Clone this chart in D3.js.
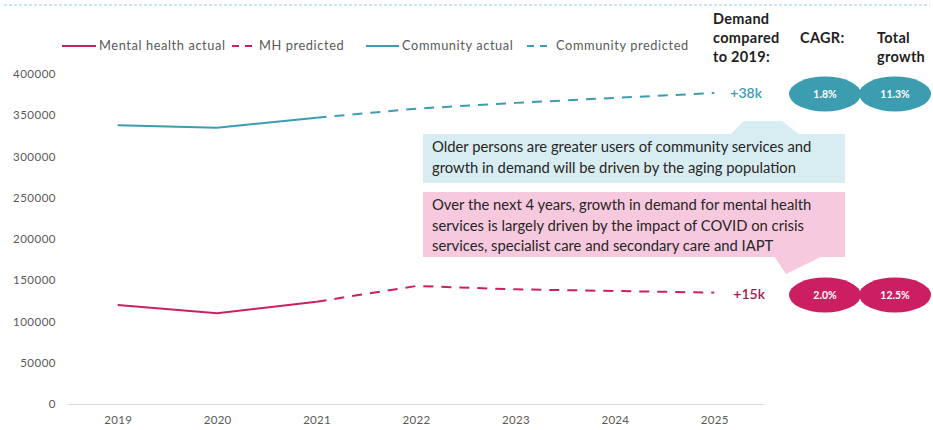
<!DOCTYPE html>
<html>
<head>
<meta charset="utf-8">
<script src="https://cdn.jsdelivr.net/npm/d3@7"></script>
<style>
  html, body { margin: 0; padding: 0; background: #ffffff; }
  svg { display: block; font-family: Lato, "Open Sans", sans-serif; }
</style>
</head>
<body>
<svg id="chart" width="933" height="430"></svg>
<script>
// Years on the x axis
const years = ["2019", "2020", "2021", "2022", "2023", "2024", "2025"];
// Mental health demand
const mhActualYears = ["2019", "2020", "2021"];
const mhActual = [120000, 110000, 124000];
const mhPredYears = ["2021", "2022", "2023", "2024", "2025"];
const mhPredicted = [124000, 143000, 139000, 137000, 135000];
// Community demand
const comActualYears = ["2019", "2020", "2021"];
const comActual = [338000, 335000, 347000];
const comPredYears = ["2021", "2022", "2023", "2024", "2025"];
const comPredicted = [347000, 358000, 365000, 371000, 377000];
// Y axis ticks
const yTicks = [0, 50000, 100000, 150000, 200000, 250000, 300000, 350000, 400000];
// Summary figures
const seriesNames = ["Mental health actual", "MH predicted", "Community actual", "Community predicted"];
const changeLabels = ["+38k", "+15k"];
const cagrLabels = ["1.8%", "2.0%"];
const totalLabels = ["11.3%", "12.5%"];
const notes = [
  ["Older persons are greater users of community services and",
   "growth in demand will be driven by the aging population"],
  ["Over the next 4 years, growth in demand for mental health",
   "services is largely driven by the impact of COVID on crisis",
   "services, specialist care and secondary care and IAPT"]
];

const PINK = "#cc1f62";
const TEAL = "#3c9cb0";
const AXIS_TXT = "#595959";

const svg = d3.select("#chart");

const x = d3.scalePoint().domain(years).range([68, 764]).padding(0.5);
const y = d3.scaleLinear().domain([0, 400000]).range([404, 74]);

// top dashed divider
svg.append("line")
  .attr("x1", 4).attr("x2", 930).attr("y1", 5).attr("y2", 5)
  .attr("stroke", "#bcdde3").attr("stroke-width", 1.5)
  .attr("stroke-dasharray", "3,2");

// y axis labels
const yAxis = d3.axisLeft(y).tickValues(yTicks).tickSize(0).tickPadding(0)
  .tickFormat(d3.format("d"));
svg.append("g").attr("transform", "translate(56,0)").call(yAxis)
  .call(g => g.select(".domain").remove())
  .call(g => g.selectAll("text").attr("fill", AXIS_TXT)
    .attr("font-size", 11.5).attr("letter-spacing", 0.5)
    .attr("font-family", "Lato, sans-serif"));

// x axis
const xAxis = d3.axisBottom(x).tickSize(0).tickPadding(12);
svg.append("g").attr("transform", `translate(0,${y(0)})`).call(xAxis)
  .call(g => g.select(".domain").attr("stroke", "#d9d9d9").attr("stroke-width", 1))
  .call(g => g.selectAll("text").attr("fill", AXIS_TXT)
    .attr("font-size", 11.5).attr("letter-spacing", 0.3)
    .attr("font-family", "Lato, sans-serif"));

const line = d3.line().x(d => x(d[0])).y(d => y(d[1]));

function drawSeries(ys, vals, color, dashed) {
  svg.append("path")
    .datum(ys.map((yr, i) => [yr, vals[i]]))
    .attr("d", line)
    .attr("fill", "none")
    .attr("stroke", color)
    .attr("stroke-width", 2)
    .attr("stroke-dasharray", dashed ? "10,8" : null);
}
drawSeries(comActualYears, comActual, TEAL, false);
drawSeries(comPredYears, comPredicted, TEAL, true);
drawSeries(mhActualYears, mhActual, PINK, false);
drawSeries(mhPredYears, mhPredicted, PINK, true);

// legend
const legendItems = [
  { name: seriesNames[0], color: PINK, dashed: false, x: 62, w: 34 },
  { name: seriesNames[1], color: PINK, dashed: true, x: 232, w: 24 },
  { name: seriesNames[2], color: TEAL, dashed: false, x: 366, w: 33 },
  { name: seriesNames[3], color: TEAL, dashed: true, x: 527, w: 26 }
];
const lg = svg.append("g");
legendItems.forEach(it => {
  lg.append("line")
    .attr("x1", it.x).attr("x2", it.x + it.w).attr("y1", 46).attr("y2", 46)
    .attr("stroke", it.color).attr("stroke-width", 2)
    .attr("stroke-dasharray", it.dashed ? "7,6" : null);
  lg.append("text").attr("x", it.x + it.w + 3).attr("y", 50)
    .attr("font-size", 12.8).attr("letter-spacing", 0.6)
    .attr("fill", AXIS_TXT).text(it.name);
});

// column headers
const hdr = svg.append("g").attr("font-weight", 700).attr("font-size", 14.5)
  .attr("letter-spacing", 0.3).attr("fill", "#1e1e1e");
[["Demand", 713, 24], ["compared", 713, 43], ["to  2019:", 713, 62],
 ["CAGR:", 800, 43], ["Total", 877, 43], ["growth", 877, 62]].forEach(h => {
  hdr.append("text").attr("x", h[1]).attr("y", h[2]).text(h[0]);
});

// callout notes
function callout(lines, x0, y0, w, h, fill, tail) {
  const g = svg.append("g");
  g.append("path").attr("d", d3.line()(tail) + "Z").attr("fill", fill);
  g.append("rect").attr("x", x0).attr("y", y0).attr("width", w).attr("height", h).attr("fill", fill);
  lines.forEach((t, i) => {
    g.append("text").attr("x", x0 + 9).attr("y", y0 + 18 + i * 20.5)
      .attr("font-size", 14.8).attr("fill", "#262626").text(t);
  });
}
callout(notes[0], 423, 134, 422, 49, "#d7edf2",
  [[730, 135], [744, 121], [782, 121], [800, 135]]);
callout(notes[1], 423, 192, 422, 65, "#f7c9de",
  [[770, 250], [835, 250], [786, 274]]);

// change labels beside the final points
const lastCom = comPredicted[comPredicted.length - 1];
const lastMh = mhPredicted[mhPredicted.length - 1];
svg.append("text").attr("x", x("2025") + 16).attr("y", y(lastCom) + 5)
  .attr("font-size", 14).attr("font-weight", 600).attr("fill", TEAL).text(changeLabels[0]);
svg.append("text").attr("x", x("2025") + 19).attr("y", y(lastMh) + 6)
  .attr("font-size", 14).attr("font-weight", 600).attr("fill", "#a8174f").text(changeLabels[1]);

// growth badges
function badge(cx, cy, color, label) {
  svg.append("ellipse").attr("cx", cx).attr("cy", cy).attr("rx", 36).attr("ry", 17.5).attr("fill", color);
  svg.append("text").attr("x", cx).attr("y", cy + 4).attr("text-anchor", "middle")
    .attr("font-size", 10.5).attr("font-weight", 700).attr("fill", "#ffffff").text(label);
}
badge(825, 94, TEAL, cagrLabels[0]);
badge(895, 94, TEAL, totalLabels[0]);
badge(825, 295, PINK, cagrLabels[1]);
badge(895, 295, PINK, totalLabels[1]);
</script>
</body>
</html>
